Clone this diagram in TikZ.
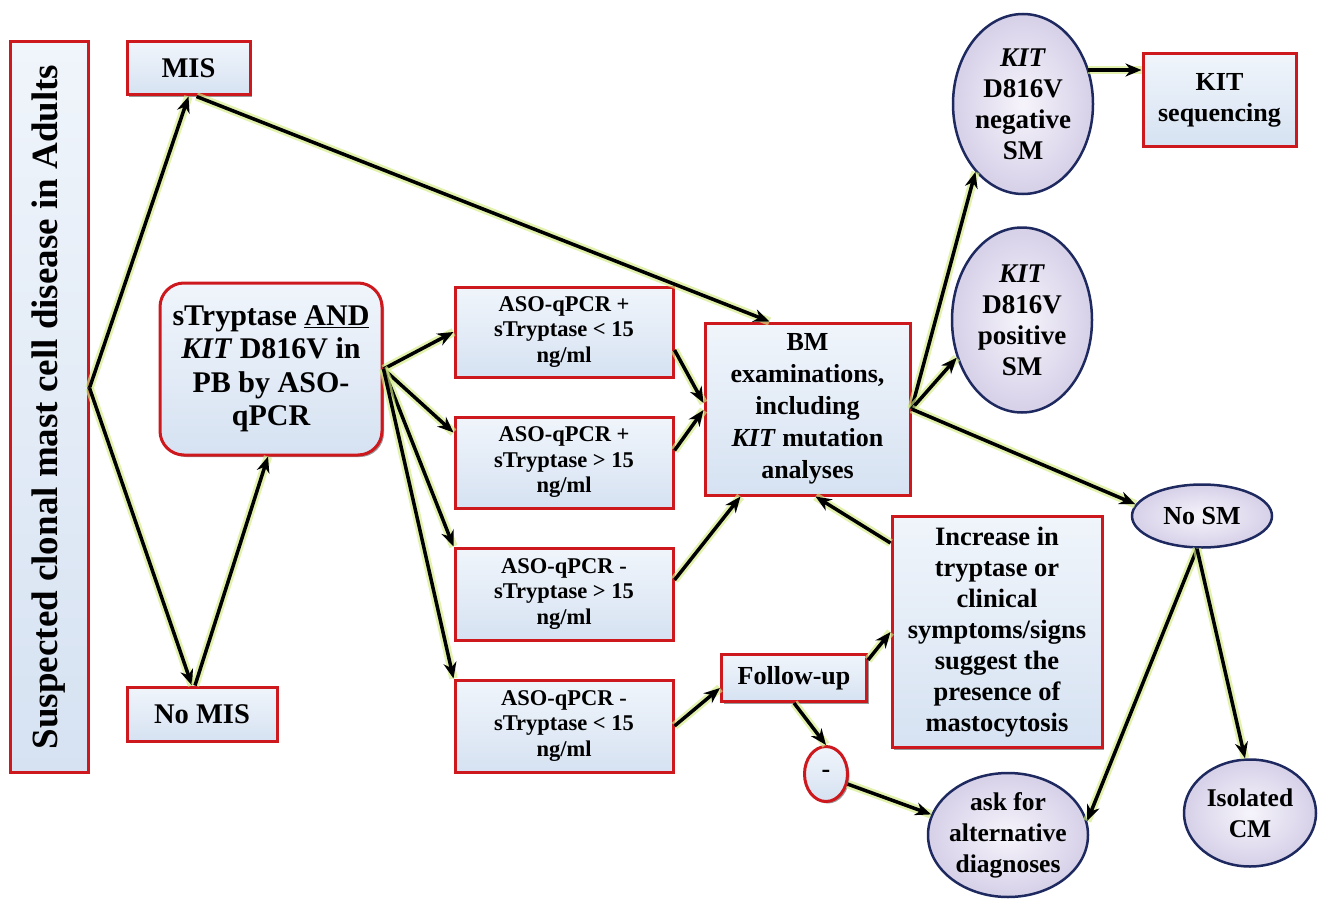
\documentclass[tikz,border=0pt]{standalone}
\usepackage{fontspec}
\setmainfont{Liberation Serif}
\usetikzlibrary{arrows.meta,shapes.geometric,shadows,calc}

\definecolor{boxred}{RGB}{205,25,30}
\definecolor{boxtop}{RGB}{240,245,251}
\definecolor{boxbot}{RGB}{214,226,242}
\definecolor{ellline}{RGB}{30,42,95}
\definecolor{ellin}{RGB}{246,244,251}
\definecolor{ellout}{RGB}{214,208,232}
\definecolor{glowc}{RGB}{210,235,130}

\tikzset{
 bx/.style={draw=boxred, line width=3pt, top color=boxtop, bottom color=boxbot, inner sep=0pt, align=center,
   drop shadow={shadow xshift=2pt, shadow yshift=-2pt, opacity=0.4, fill=black}},
 el/.style={ellipse, draw=ellline, line width=2.5pt, inner color=ellin, outer color=ellout, inner sep=-6pt, align=center},
 fA/.style={font=\bfseries\fontsize{26}{31}\selectfont},
 fE/.style={font=\bfseries\fontsize{27}{31}\selectfont},
 fS/.style={font=\bfseries\fontsize{22.5}{25.5}\selectfont},
 arr/.style={line width=3.5pt, -{Stealth[length=16pt,width=13pt]}, preaction={draw=glowc, line width=8.5pt, opacity=0.65, arrows=-}},
}

\begin{document}
\begin{tikzpicture}[x=1pt,y=-1pt]
\useasboundingbox (0,0) rectangle (1334,899);

% nodes
\node[bx, rotate=90, minimum width=730pt, minimum height=78pt, font=\bfseries\fontsize{37}{42}\selectfont] (title) at (49,407) {Suspected clonal mast cell disease in Adults};
\node[bx, minimum width=123pt, minimum height=53pt, font=\bfseries\fontsize{28.5}{32}\selectfont] (mis) at (188.5,68.5) {MIS};
\node[bx, minimum width=150pt, minimum height=54pt, font=\bfseries\fontsize{28.5}{32}\selectfont] (nomis) at (202,714) {No MIS};
\node[bx, rounded corners=24pt, minimum width=222pt, minimum height=172pt, font=\bfseries\fontsize{30}{33.5}\selectfont] (stry) at (271,369) {sTryptase \underline{AND}\\\textit{KIT} D816V in\\PB by ASO-\\qPCR};
\node[bx, fS, minimum width=218pt, minimum height=90pt] (aso1) at (564,332) {ASO-qPCR +\\sTryptase < 15\\ng/ml};
\node[bx, fS, minimum width=218pt, minimum height=91pt] (aso2) at (564,462.5) {ASO-qPCR +\\sTryptase > 15\\ng/ml};
\node[bx, fS, minimum width=218pt, minimum height=92pt] (aso3) at (564,594) {ASO-qPCR -\\sTryptase > 15\\ng/ml};
\node[bx, fS, minimum width=218pt, minimum height=92pt] (aso4) at (564,726) {ASO-qPCR -\\sTryptase < 15\\ng/ml};
\node[bx, minimum width=205pt, minimum height=172pt, font=\bfseries\fontsize{26}{32}\selectfont] (bm) at (807.5,409) {BM\\examinations,\\including\\\textit{KIT} mutation\\analyses};
\node[el, fE, minimum width=140pt, minimum height=180pt] (kneg) at (1023,104) {\textit{KIT}\\D816V\\negative\\SM};
\node[bx, fA, minimum width=153pt, minimum height=92pt] (kseq) at (1219.5,100) {KIT\\sequencing};
\node[el, fE, minimum width=140pt, minimum height=185pt] (kpos) at (1022,320) {\textit{KIT}\\D816V\\positive\\SM};
\node[el, fA, minimum width=140pt, minimum height=63pt] (nosm) at (1202,516) {No SM};
\node[bx, font=\bfseries\fontsize{26.5}{31}\selectfont, minimum width=210pt, minimum height=231pt] (incr) at (997,632) {Increase in\\tryptase or\\clinical\\symptoms/signs\\suggest the\\presence of\\mastocytosis};
\node[bx, fA, minimum width=145pt, minimum height=47pt] (fup) at (794,678) {Follow-up};
\node[bx, ellipse, fA, minimum width=43pt, minimum height=55pt] (minus) at (826,774) {-};
\node[el, font=\bfseries\fontsize{25.5}{31}\selectfont, minimum width=160pt, minimum height=124pt] (ask) at (1008,835) {ask for\\alternative\\diagnoses};
\node[el, font=\bfseries\fontsize{25.5}{31}\selectfont, minimum width=132pt, minimum height=107pt] (iso) at (1250,813) {Isolated\\CM};

% connectors
\coordinate (ts) at ([yshift=19pt]title.south);
\draw[arr] (ts) -- (mis.south);
\draw[arr] (ts) -- ([xshift=-10pt]nomis.north);
\draw[arr] ([xshift=-7pt]nomis.north) -- ([xshift=-3pt]stry.south);
\draw[arr] ([xshift=8pt]mis.south) -- ([xshift=-38pt]bm.north);

\draw[arr] (stry.east) -- (aso1.west);
\draw[arr] (stry.east) -- ([yshift=30pt]aso2.west);
\draw[arr] (stry.east) -- (aso3.north west);
\draw[arr] (stry.east) -- (aso4.north west);

\draw[arr] ([yshift=-18pt]aso1.east) -- ([yshift=6pt]bm.west);
\draw[arr] ([yshift=12pt]aso2.east) -- ([yshift=-1pt]bm.west);
\draw[arr] ([yshift=14pt]aso3.east) -- ([xshift=-67pt]bm.south);
\draw[arr] (aso4.east) -- ([yshift=-10pt]fup.west);
\draw[arr] ([yshift=18pt]fup.east) -- (incr.west);
\draw[arr] ([yshift=-28pt]incr.north west) -- ([xshift=8pt]bm.south);
\draw[arr] (fup.south) -- (minus.north);
\draw[arr] (minus.-25) -- (ask.165);

\draw[arr] (bm.east) -- (kneg.235);
\draw[arr] (bm.east) -- (kpos.210);
\draw[arr] (bm.east) -- (nosm.170);
\draw[arr] ([xshift=65pt,yshift=34pt]kneg.center) -- ([yshift=30pt]kseq.west);
\draw[arr] ([xshift=-5pt]nosm.south) -- (ask.10);
\draw[arr] ([xshift=-5pt]nosm.south) -- ([xshift=-5pt]iso.north);
\end{tikzpicture}
\end{document}
